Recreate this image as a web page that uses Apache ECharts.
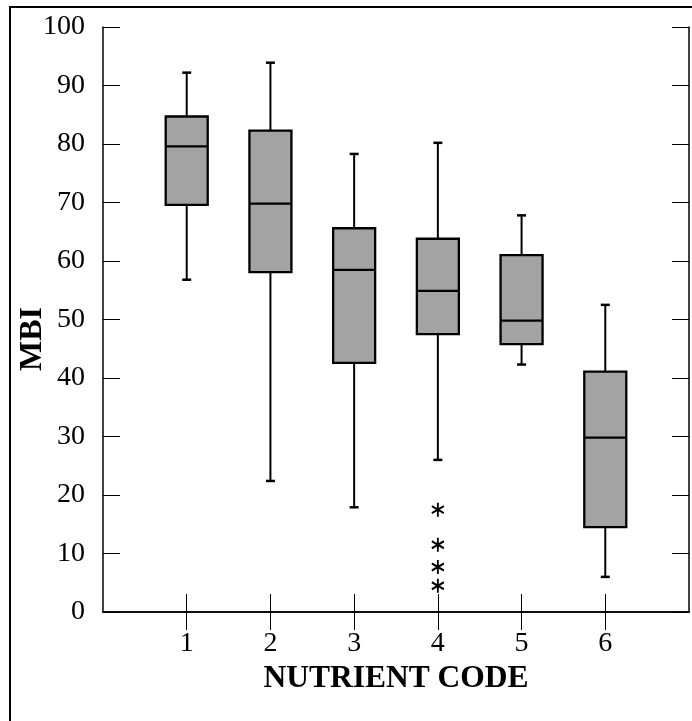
<!DOCTYPE html>
<html>
<head>
<meta charset="utf-8">
<script src="https://cdn.jsdelivr.net/npm/echarts@6/dist/echarts.min.js"></script>
<style>
html,body{margin:0;padding:0;background:#fff;}
#chart{width:692px;height:721px;}
</style>
</head>
<body>
<div id="chart"></div>
<script>
// Data
const categories = ['1', '2', '3', '4', '5', '6'];
const whiskerLow  = [56.8, 22.4, 17.9, 26.0, 42.3, 6.0];
const quartile1   = [69.6, 58.1, 42.6, 47.5, 45.8, 14.5];
const medians     = [79.6, 69.8, 58.5, 54.9, 49.8, 29.8];
const quartile3   = [84.7, 82.3, 65.6, 63.8, 61.0, 41.1];
const whiskerHigh = [92.2, 93.9, 78.3, 80.2, 67.8, 52.5];
const outlierCategory = ['4', '4', '4', '4'];
const outlierValues   = [17.5, 11.5, 7.7, 4.5];
const yTicks = [0, 10, 20, 30, 40, 50, 60, 70, 80, 90, 100];

const axisCats = [' '].concat(categories).concat(['  ']);
const boxData = categories.map((c, i) => [axisCats.indexOf(c), whiskerLow[i], quartile1[i], medians[i], quartile3[i], whiskerHigh[i]]);
const outData = outlierCategory.map((c, i) => [axisCats.indexOf(c), outlierValues[i]]);

const serif = "'Liberation Serif', 'Times New Roman', 'DejaVu Serif', serif";
const chart = echarts.init(document.getElementById('chart'));

const tickInterval = function (i, v) { return v.trim() !== ''; };

chart.setOption({
  animation: false,
  backgroundColor: '#ffffff',
  grid: { left: 103, top: 27, right: 3, bottom: 109, containLabel: false, outerBoundsMode: 'none' },
  xAxis: [{
    type: 'category', data: axisCats, boundaryGap: false, position: 'bottom',
    axisLine: { lineStyle: { color: '#000', width: 1.5 } },
    axisTick: { inside: true, length: 18, interval: tickInterval, lineStyle: { color: '#000', width: 1 } },
    axisLabel: { interval: 0, margin: 18, color: '#000', fontFamily: serif, fontSize: 28 },
    splitLine: { show: false },
    name: 'NUTRIENT CODE', nameLocation: 'middle', nameGap: 45,
    nameTextStyle: { color: '#000', fontFamily: serif, fontSize: 31.5, fontWeight: 'bold' }
  }, {
    type: 'category', data: axisCats, boundaryGap: false, position: 'top',
    axisLine: { lineStyle: { color: '#000', width: 1.5 } },
    axisTick: { inside: true, length: 18, interval: tickInterval, lineStyle: { color: '#000', width: 1 } },
    axisLabel: { show: false }, splitLine: { show: false }
  }],
  yAxis: [{
    type: 'value', min: yTicks[0], max: yTicks[yTicks.length - 1], interval: 10, position: 'left',
    axisLine: { show: true, lineStyle: { color: '#000', width: 1.5 } },
    axisTick: { show: true, inside: true, length: 17, lineStyle: { color: '#000', width: 1 } },
    axisLabel: { margin: 18, color: '#000', fontFamily: serif, fontSize: 28 },
    splitLine: { show: false }
  }, {
    type: 'value', min: yTicks[0], max: yTicks[yTicks.length - 1], interval: 10, position: 'right',
    axisLine: { show: true, lineStyle: { color: '#000', width: 1.5 } },
    axisTick: { show: true, inside: true, length: 17, lineStyle: { color: '#000', width: 1 } },
    axisLabel: { show: false }, splitLine: { show: false }
  }],
  graphic: [{
    type: 'rect', shape: { x: 10, y: 7, width: 720, height: 740 },
    style: { fill: 'none', stroke: '#000', lineWidth: 2 }, silent: true
  }, {
    type: 'text', x: 33, y: 339, rotation: Math.PI / 2,
    style: { text: 'MBI', fill: '#000', font: "bold 32px " + serif, textAlign: 'center', textVerticalAlign: 'middle' }
  }],
  series: [{
    type: 'custom',
    xAxisIndex: 0, yAxisIndex: 0,
    data: boxData,
    encode: { x: 0, y: [1, 2, 3, 4, 5] },
    renderItem: function (params, api) {
      const x = api.value(0);
      const lo = api.coord([x, api.value(1)]);
      const q1 = api.coord([x, api.value(2)]);
      const md = api.coord([x, api.value(3)]);
      const q3 = api.coord([x, api.value(4)]);
      const hi = api.coord([x, api.value(5)]);
      const cx = lo[0], hw = 21, cw = 4.5;
      const ls = { stroke: '#000', lineWidth: 2, fill: null };
      return {
        type: 'group',
        children: [
          { type: 'line', shape: { x1: cx, y1: hi[1], x2: cx, y2: q3[1] }, style: ls },
          { type: 'line', shape: { x1: cx, y1: q1[1], x2: cx, y2: lo[1] }, style: ls },
          { type: 'line', shape: { x1: cx - cw, y1: hi[1], x2: cx + cw, y2: hi[1] }, style: { stroke: '#000', lineWidth: 2.5 } },
          { type: 'line', shape: { x1: cx - cw, y1: lo[1], x2: cx + cw, y2: lo[1] }, style: { stroke: '#000', lineWidth: 2.5 } },
          { type: 'rect', shape: { x: cx - hw, y: q3[1], width: hw * 2, height: q1[1] - q3[1] },
            style: { fill: '#a3a3a3', stroke: '#000', lineWidth: 2.3 } },
          { type: 'line', shape: { x1: cx - hw, y1: md[1], x2: cx + hw, y2: md[1] }, style: { stroke: '#000', lineWidth: 2.3 } }
        ]
      };
    }
  }, {
    type: 'scatter',
    xAxisIndex: 0, yAxisIndex: 0,
    data: outData,
    symbol: 'path://M0,-6.5L0,6.5M-5.63,-3.25L5.63,3.25M-5.63,3.25L5.63,-3.25',
    symbolSize: [12, 14],
    itemStyle: { color: 'rgba(0,0,0,0)', borderColor: '#000', borderWidth: 2, opacity: 1 }
  }]
});
</script>
</body>
</html>
